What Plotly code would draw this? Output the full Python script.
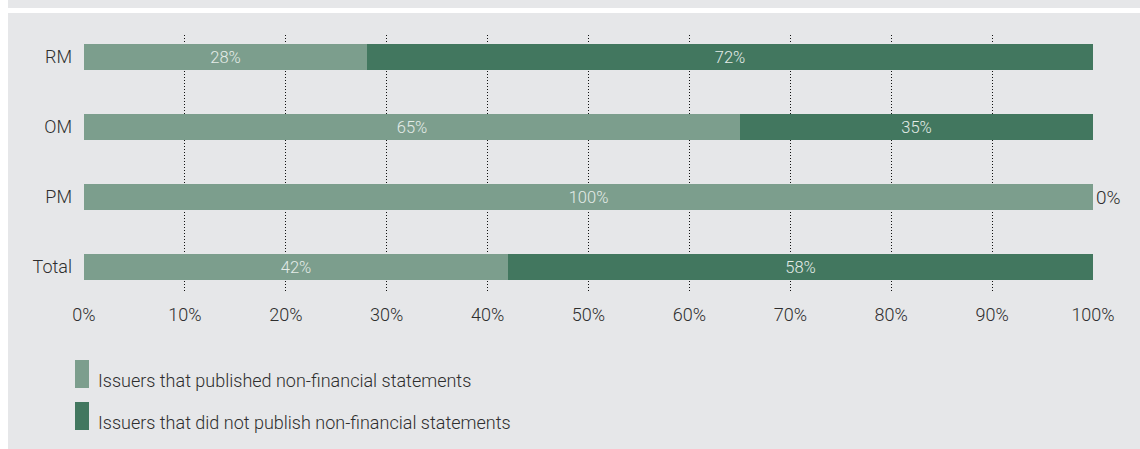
import plotly.graph_objects as go

# Share of issuers by market segment (percent)
categories = ["RM", "OM", "PM", "Total"]
published = [28, 65, 100, 42]
not_published = [72, 35, 0, 58]
series_names = [
    "Issuers that published non-financial statements",
    "Issuers that did not publish non-financial statements",
]
x_ticks = list(range(0, 101, 10))
x_tick_labels = [f"{v}%" for v in x_ticks]

LIGHT = "#7c9e8d"
DARK = "#42775f"
BG = "#e6e7e9"
INK = "#2e2e2e"
FONT = "Roboto, DejaVu Sans, sans-serif"
SIZE = 18
WEIGHT = 300

# numeric rows so the bands can be placed evenly, top to bottom
y_pos = [3 - i for i in range(len(categories))]

text_pos_dark = ["outside" if v == 0 else "inside" for v in not_published]
text_col_dark = [INK if v == 0 else "#e4ece8" for v in not_published]

fig = go.Figure()
fig.add_trace(go.Bar(
    y=y_pos, x=published, orientation="h", name=series_names[0],
    marker=dict(color=LIGHT, line=dict(width=0)), width=0.37,
    text=[f"{v}%" for v in published], textposition="inside",
    insidetextanchor="middle",
    textfont=dict(family=FONT, size=19, color="#e4ece8", weight=WEIGHT),
    cliponaxis=False, showlegend=False,
))
fig.add_trace(go.Bar(
    y=y_pos, x=not_published, orientation="h", name=series_names[1],
    marker=dict(color=DARK, line=dict(width=0)), width=0.37,
    text=[f"{v}%" for v in not_published], textposition=text_pos_dark,
    insidetextanchor="middle",
    textfont=dict(family=FONT, size=19, color=text_col_dark, weight=WEIGHT),
    cliponaxis=False, showlegend=False,
))

# page panels: white gutter on the left and a thin white band near the top
W, H = 1140, 449
L, R, T, B = 84, 47, 35, 156
pw, ph = W - L - R, H - T - B


def px_x(px):
    return (px - L) / pw


def px_y(py):
    return (H - B - py) / ph


shapes = [
    dict(type="rect", xref="paper", yref="paper", layer="below",
         x0=px_x(0), x1=px_x(8), y0=px_y(H), y1=px_y(0),
         fillcolor="white", line=dict(width=0)),
    dict(type="rect", xref="paper", yref="paper", layer="below",
         x0=px_x(0), x1=px_x(W), y0=px_y(13), y1=px_y(8),
         fillcolor="white", line=dict(width=0)),
]

# legend: tall swatches with labels, one row per series
annotations = []
for i, (name, col) in enumerate(zip(series_names, [LIGHT, DARK])):
    top = 360 + i * 42
    shapes.append(dict(type="rect", xref="paper", yref="paper",
                       x0=px_x(75), x1=px_x(89), y0=px_y(top + 28), y1=px_y(top),
                       fillcolor=col, line=dict(width=0)))
    annotations.append(dict(xref="paper", yref="paper", x=px_x(96), y=px_y(top + 20),
                            text=name, showarrow=False, xanchor="left", yanchor="middle",
                            font=dict(family=FONT, size=SIZE, color=INK, weight=WEIGHT)))

fig.update_layout(
    width=W, height=H,
    margin=dict(l=L, r=R, t=T, b=B),
    paper_bgcolor=BG, plot_bgcolor=BG,
    barmode="stack", bargap=0,
    font=dict(family=FONT, size=SIZE, color=INK, weight=WEIGHT),
    shapes=shapes, annotations=annotations,
    uniformtext=dict(mode=False),
)
fig.update_xaxes(
    range=[0, 100], tickvals=x_ticks, ticktext=x_tick_labels,
    showgrid=True, gridcolor="#111111", gridwidth=1, griddash="1px,2px",
    zeroline=False, showline=False, ticks="", ticklabelstandoff=9,
    tickfont=dict(family=FONT, size=SIZE, color=INK, weight=WEIGHT),
)
fig.update_yaxes(
    range=[-0.371, 3.314], tickvals=y_pos, ticktext=categories,
    showgrid=False, zeroline=False, showline=False, ticks="",
    ticklabelstandoff=11,
    tickfont=dict(family=FONT, size=SIZE, color=INK, weight=WEIGHT),
)

fig.write_html("out.html")
